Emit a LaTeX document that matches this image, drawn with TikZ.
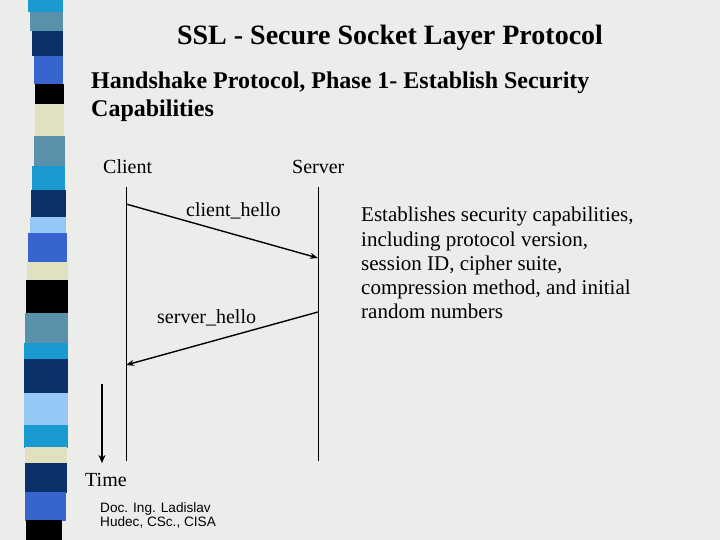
\documentclass[tikz,border=0pt]{standalone}
\usepackage{fontspec}
\setmainfont{Liberation Serif}
\setsansfont{Liberation Sans}
\usetikzlibrary{arrows.meta}
\definecolor{bg}{RGB}{236,236,234}
\definecolor{scyan}{RGB}{25,155,210}
\definecolor{ssteel}{RGB}{90,145,170}
\definecolor{snavy}{RGB}{10,50,105}
\definecolor{sroyal}{RGB}{55,100,205}
\definecolor{sbeige}{RGB}{225,225,190}
\definecolor{slight}{RGB}{150,200,245}
\tikzset{
  txt/.style={inner sep=0pt, anchor=base west},
  lbl/.style={txt, font=\fontsize{20}{24}\selectfont},
  lifeline/.style={line width=0.9pt, black},
  msg/.style={line width=1.4pt, -{Stealth[length=8pt,width=6pt]}},
  timearrow/.style={line width=2.3pt, -{Stealth[length=8pt,width=7pt]}},
}
\newcommand{\stripe}[5]{\fill[#5] (#3,#1) -- (#4,#1) -- (#4,#2) -- (#3,#2) -- cycle;}
\begin{document}
\begin{tikzpicture}[x=1pt,y=-1pt]
\fill[bg] (0,0) rectangle (720,540);
\useasboundingbox (0,0) rectangle (720,540);
% left decorative strip
\stripe{0}{12.5}{28}{63}{scyan}
\stripe{12}{31.5}{30}{63}{ssteel}
\stripe{31}{56.5}{32}{63}{snavy}
\stripe{56}{84.5}{34}{63}{sroyal}
\stripe{84}{104.5}{35}{64}{black}
\stripe{104}{136.5}{35}{64}{sbeige}
\stripe{136}{166.5}{34}{65}{ssteel}
\stripe{166}{190.5}{32}{65}{scyan}
\stripe{190}{217.5}{31}{66}{snavy}
\stripe{217}{233.5}{30}{66}{slight}
\stripe{233}{262.5}{28}{67}{sroyal}
\stripe{262}{280.5}{27}{68}{sbeige}
\stripe{280}{313.5}{26}{68}{black}
\stripe{313}{343.5}{25}{68}{ssteel}
\stripe{343}{359.5}{24}{68}{scyan}
\stripe{359}{393.5}{24}{68}{snavy}
\stripe{393}{425.5}{24}{68}{slight}
\stripe{425}{447.5}{24}{68}{scyan}
\stripe{447}{463.5}{25}{67}{sbeige}
\stripe{463}{492.5}{25}{67}{snavy}
\stripe{492}{520.5}{25}{66}{sroyal}
\stripe{520}{540}{26}{62}{black}
% titles
\node (title) [inner sep=0pt, anchor=base, font=\fontsize{28}{32}\selectfont\bfseries] at (390,45) {SSL - Secure Socket Layer Protocol};
\node (sub1) [txt, font=\fontsize{24}{28}\selectfont\bfseries] at (91,89) {Handshake Protocol, Phase 1- Establish Security};
\node (sub2) [txt, font=\fontsize{24}{28}\selectfont\bfseries] at (91,117) {Capabilities};
% actors
\node (client) [lbl] at (103,174) {Client};
\node (server) [lbl] at (292,174) {Server};
% lifelines
\coordinate (ctop) at (126,187);
\coordinate (cbot) at (126,461);
\coordinate (stop) at (318,187);
\coordinate (sbot) at (318,461);
\draw[lifeline] (ctop) -- (cbot);
\draw[lifeline] (stop) -- (sbot);
% messages
\coordinate (ch1) at (126,204);
\coordinate (ch2) at (318,258);
\coordinate (sh1) at (318,312);
\coordinate (sh2) at (126,365);
\draw[msg] (ch1) -- (ch2);
\draw[msg] (sh1) -- (sh2);
\node (chl) [lbl] at (186,216) {client\_hello};
\node (shl) [lbl] at (157,323) {server\_hello};
% time
\coordinate (t1) at (102,384);
\coordinate (t2) at (102,463);
\draw[timearrow] (t1) -- (t2);
\node (time) [lbl] at (85,486) {Time};
% description
\node (desc) [inner sep=0pt, align=left, anchor=north west, font=\fontsize{21}{24.3}\selectfont] at (361,207) {Establishes security capabilities,\\including protocol version,\\session ID, cipher suite,\\compression method, and initial\\random numbers};
% author
\node (author) [inner sep=0pt, align=left, anchor=north west, font=\fontsize{13.6}{14.5}\selectfont\sffamily] at (100,502) {Doc. Ing. Ladislav\\Hudec, CSc., CISA};
\end{tikzpicture}
\end{document}
